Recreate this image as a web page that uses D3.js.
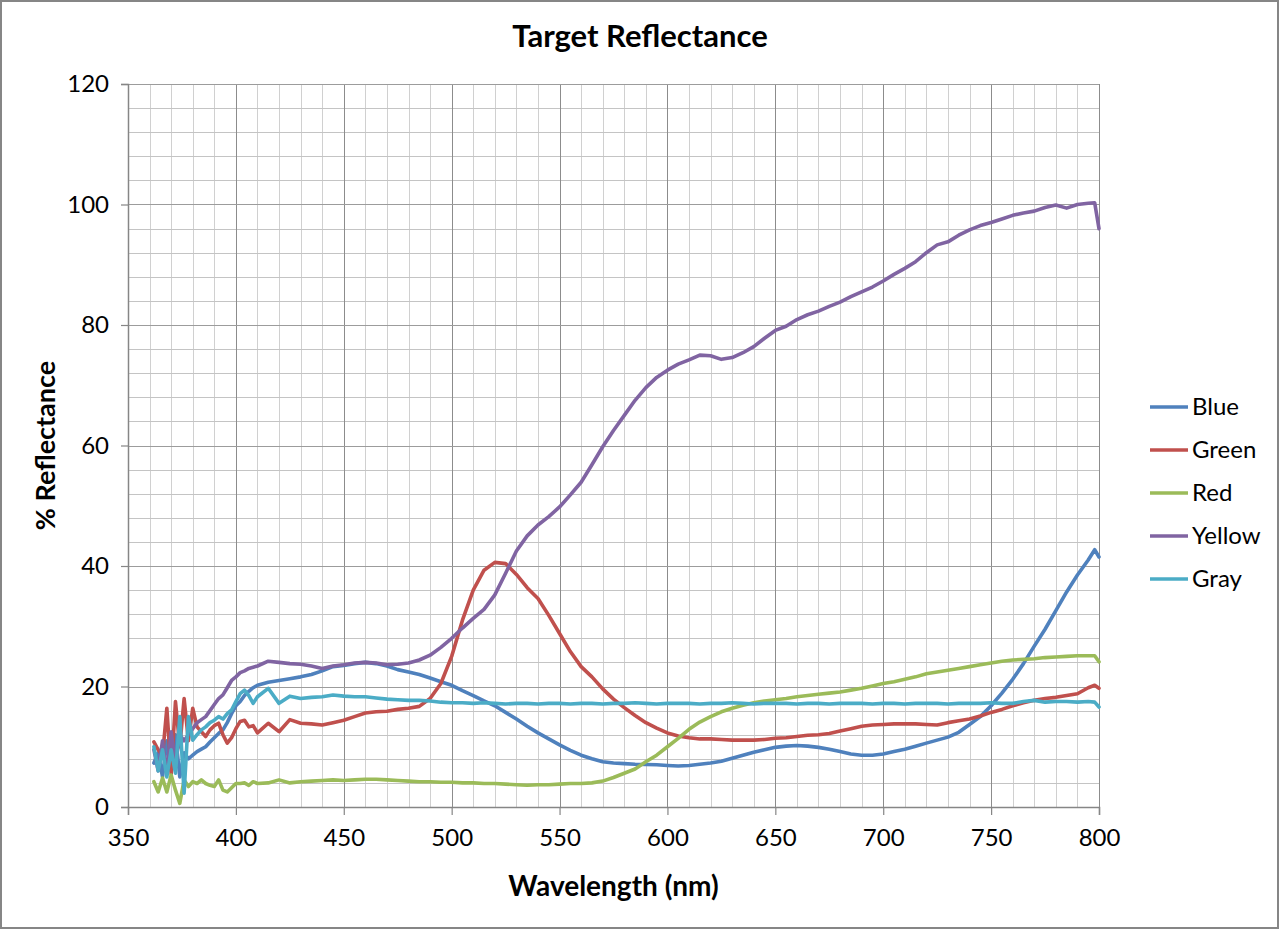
<!DOCTYPE html>
<html>
<head>
<meta charset="utf-8">
<script src="https://cdn.jsdelivr.net/npm/d3@7"></script>
<style>
  html, body { margin: 0; padding: 0; background: #fff; }
  svg { display: block; }
  text { font-family: Lato, "Open Sans", sans-serif; fill: #000; }
</style>
</head>
<body>
<svg id="chart" width="1280" height="930"></svg>
<script>
// ---------------- DATA ----------------
const wavelengths = [
  362,364,366,368,370,372,374,376,378,380,382,384,386,388,390,392,394,396,398,400,402,404,406,408,410,
  415,420,425,430,435,440,445,450,455,460,465,470,475,480,485,490,495,500,505,510,515,520,525,530,535,540,
  545,550,555,560,565,570,575,580,585,590,595,600,605,610,615,620,625,630,635,640,645,650,655,660,665,670,
  675,680,685,690,695,700,705,710,715,720,725,730,735,740,745,750,755,760,765,770,775,780,785,790,795,798,800
];

const blueValues = [
  7.3,9.0,5.0,11.0,6.0,12.0,5.0,9.0,8.0,8.6,9.2,9.6,10.0,10.8,11.5,12.2,12.8,14.0,15.5,16.8,17.5,18.5,19.2,19.8,20.2,
  20.7,21.0,21.3,21.6,22.0,22.6,23.3,23.5,23.8,24.0,23.8,23.4,22.8,22.4,22.0,21.4,20.8,20.2,19.3,18.5,17.6,16.8,15.7,14.6,13.4,12.3,
  11.3,10.3,9.4,8.6,8.0,7.5,7.3,7.2,7.1,7.05,7.0,6.9,6.8,6.9,7.1,7.3,7.6,8.1,8.6,9.1,9.5,9.9,10.1,10.2,10.1,9.9,
  9.6,9.2,8.8,8.6,8.6,8.8,9.2,9.6,10.1,10.6,11.1,11.6,12.4,13.7,15.0,16.8,18.9,21.2,23.8,26.7,29.5,32.6,35.7,38.5,41.0,42.7,41.5
];

const greenValues = [
  10.8,9.5,8.5,16.4,5.5,17.5,10.0,18.0,11.0,16.4,13.3,12.5,11.7,12.8,13.5,13.9,12.0,10.6,11.5,13.0,14.2,14.4,13.3,13.5,12.3,
  13.9,12.5,14.5,13.9,13.8,13.6,14.0,14.4,15.0,15.6,15.8,15.9,16.2,16.4,16.7,18.0,20.5,25.0,31.0,36.0,39.3,40.6,40.4,38.6,36.4,34.6,
  31.8,28.8,25.8,23.3,21.6,19.6,17.9,16.5,15.2,14.0,13.1,12.3,11.8,11.5,11.3,11.3,11.2,11.1,11.1,11.1,11.2,11.4,11.5,11.7,11.9,12.0,
  12.2,12.6,13.0,13.4,13.6,13.7,13.8,13.8,13.8,13.7,13.6,14.0,14.3,14.6,15.1,15.7,16.2,16.8,17.3,17.7,18.0,18.2,18.5,18.8,19.8,20.2,19.7
];

const redValues = [
  4.2,2.5,4.8,2.5,5.3,2.8,0.6,4.5,3.4,4.2,3.9,4.5,3.9,3.6,3.4,4.5,2.8,2.5,3.2,3.9,3.9,4.0,3.6,4.2,3.9,
  4.0,4.5,4.0,4.2,4.3,4.4,4.5,4.4,4.5,4.6,4.6,4.5,4.4,4.3,4.2,4.2,4.1,4.1,4.0,4.0,3.9,3.9,3.8,3.7,3.6,3.7,
  3.7,3.8,3.9,3.9,4.0,4.3,4.9,5.6,6.3,7.5,8.6,10.0,11.4,12.9,14.1,15.0,15.8,16.4,16.9,17.3,17.6,17.8,18.0,18.3,18.5,18.7,
  18.9,19.1,19.4,19.7,20.1,20.5,20.8,21.2,21.6,22.1,22.4,22.7,23.0,23.3,23.6,23.9,24.2,24.4,24.5,24.6,24.8,24.9,25.0,25.1,25.1,25.1,24.1
];

const yellowValues = [
  9.5,6.0,11.0,5.5,12.5,7.0,12.0,11.0,12.0,13.0,14.0,14.5,15.0,16.0,17.0,18.0,18.6,19.8,21.0,21.6,22.3,22.6,23.0,23.2,23.4,
  24.2,24.0,23.8,23.7,23.4,23.0,23.4,23.6,23.9,24.0,23.9,23.6,23.7,23.9,24.4,25.2,26.5,28.0,29.7,31.3,32.8,35.2,38.8,42.5,45.0,46.8,
  48.2,49.8,51.8,53.9,56.8,59.8,62.5,65.0,67.5,69.6,71.3,72.5,73.5,74.2,75.0,74.9,74.3,74.6,75.4,76.4,77.8,79.1,79.8,80.9,81.7,82.3,
  83.1,83.8,84.7,85.5,86.3,87.3,88.4,89.4,90.5,92.0,93.3,93.8,94.9,95.8,96.5,97.0,97.6,98.2,98.6,98.9,99.5,99.9,99.4,100.0,100.2,100.3,96.0
];

const grayValues = [
  10.0,6.0,9.5,5.0,9.5,5.6,15.0,2.3,15.0,11.1,12.0,12.8,13.3,14.0,14.4,15.0,14.6,15.5,16.1,17.5,18.8,19.4,18.5,17.2,18.3,
  19.7,17.2,18.4,18.0,18.2,18.3,18.6,18.4,18.3,18.3,18.1,17.9,17.8,17.7,17.7,17.6,17.4,17.3,17.3,17.2,17.3,17.2,17.1,17.2,17.2,17.1,
  17.2,17.2,17.1,17.2,17.2,17.1,17.2,17.2,17.3,17.2,17.1,17.2,17.2,17.2,17.1,17.2,17.2,17.3,17.2,17.1,17.2,17.2,17.2,17.1,17.2,17.2,
  17.1,17.2,17.2,17.2,17.1,17.2,17.2,17.1,17.2,17.2,17.2,17.1,17.2,17.2,17.2,17.3,17.2,17.2,17.5,17.7,17.4,17.5,17.5,17.4,17.5,17.4,16.6
];

const seriesNames = ["Blue", "Green", "Red", "Yellow", "Gray"];
const seriesColors = ["#4F81BD", "#C0504D", "#9BBB59", "#8064A2", "#4BACC6"];
const seriesValues = [blueValues, greenValues, redValues, yellowValues, grayValues];

const xTicks = [350, 400, 450, 500, 550, 600, 650, 700, 750, 800];
const yTicks = [0, 20, 40, 60, 80, 100, 120];

const titleText = "Target Reflectance";
const xTitle = "Wavelength (nm)";
const yTitle = "% Reflectance";

// ---------------- LAYOUT ----------------
const svg = d3.select("#chart");
const W = 1280, H = 930;
const plot = { left: 128, right: 1099, top: 84, bottom: 807 };

const x = d3.scaleLinear().domain([350, 800]).range([plot.left, plot.right]);
const y = d3.scaleLinear().domain([0, 120]).range([plot.bottom, plot.top]);

// outer border
svg.append("rect")
  .attr("x", 1).attr("y", 1).attr("width", W - 3).attr("height", H - 3)
  .attr("fill", "#fff").attr("stroke", "#868686").attr("stroke-width", 2);

// grid
const grid = svg.append("g").attr("shape-rendering", "crispEdges");
const xMinor = d3.range(360, 800, 10).filter(v => v % 50 !== 0);
const yMinor = d3.range(4, 120, 4).filter(v => v % 20 !== 0);

grid.selectAll("line.xminor").data(xMinor).join("line")
  .attr("x1", d => Math.round(x(d)) + 0.5).attr("x2", d => Math.round(x(d)) + 0.5)
  .attr("y1", plot.top).attr("y2", plot.bottom)
  .attr("stroke", "#d0d0d0").attr("stroke-width", 1);
grid.selectAll("line.yminor").data(yMinor).join("line")
  .attr("y1", d => Math.round(y(d)) + 0.5).attr("y2", d => Math.round(y(d)) + 0.5)
  .attr("x1", plot.left).attr("x2", plot.right)
  .attr("stroke", "#c4c4c4").attr("stroke-width", 1);
grid.selectAll("line.xmajor").data(xTicks.slice(1)).join("line")
  .attr("x1", d => Math.round(x(d)) + 0.5).attr("x2", d => Math.round(x(d)) + 0.5)
  .attr("y1", plot.top).attr("y2", plot.bottom)
  .attr("stroke", "#8c8c8c").attr("stroke-width", 1);
grid.selectAll("line.ymajor").data(yTicks.slice(1)).join("line")
  .attr("y1", d => Math.round(y(d)) + 0.5).attr("y2", d => Math.round(y(d)) + 0.5)
  .attr("x1", plot.left).attr("x2", plot.right)
  .attr("stroke", "#9c9c9c").attr("stroke-width", 1);

// axes
const xAxis = d3.axisBottom(x).tickValues(xTicks).tickSize(8).tickPadding(14).tickFormat(d3.format("d"));
const yAxis = d3.axisLeft(y).tickValues(yTicks).tickSize(7).tickPadding(12).tickFormat(d3.format("d"));

const gx = svg.append("g").attr("transform", `translate(0,${plot.bottom})`).call(xAxis);
const gy = svg.append("g").attr("transform", `translate(${plot.left},0)`).call(yAxis);
[gx, gy].forEach(g => {
  g.select(".domain").attr("stroke", "#868686").attr("stroke-width", 1.5);
  g.selectAll(".tick line").attr("stroke", "#868686").attr("stroke-width", 1.2);
  g.selectAll(".tick text").attr("font-family", "Lato, sans-serif").attr("font-size", 24).attr("fill", "#000");
});

// lines
const line = d3.line()
  .x((d, i) => x(wavelengths[i]))
  .y(d => y(d));

const series = seriesNames.map((name, i) => ({ name, color: seriesColors[i], values: seriesValues[i] }));

svg.append("g").selectAll("path").data(series).join("path")
  .attr("d", d => line(d.values))
  .attr("fill", "none")
  .attr("stroke", d => d.color)
  .attr("stroke-width", 3.6)
  .attr("stroke-linejoin", "round")
  .attr("stroke-linecap", "round");

// title
svg.append("text").attr("x", 640).attr("y", 47).attr("text-anchor", "middle")
  .attr("font-size", 31).attr("font-weight", "bold").text(titleText);

svg.append("text").attr("x", (plot.left + plot.right) / 2).attr("y", 896).attr("text-anchor", "middle")
  .attr("font-size", 28).attr("font-weight", "bold").text(xTitle);

svg.append("text").attr("transform", `translate(55,${(plot.top + plot.bottom) / 2}) rotate(-90)`)
  .attr("text-anchor", "middle").attr("font-size", 27).attr("font-weight", "bold").text(yTitle);

// legend
const legend = svg.append("g").attr("transform", "translate(1150,407)");
const items = legend.selectAll("g").data(series).join("g")
  .attr("transform", (d, i) => `translate(0,${i * 43})`);
items.append("line").attr("x1", 0).attr("x2", 38).attr("y1", 0).attr("y2", 0)
  .attr("stroke", d => d.color).attr("stroke-width", 3.6);
items.append("text").attr("x", 42).attr("y", 8).attr("font-size", 24).text(d => d.name);
</script>
</body>
</html>
